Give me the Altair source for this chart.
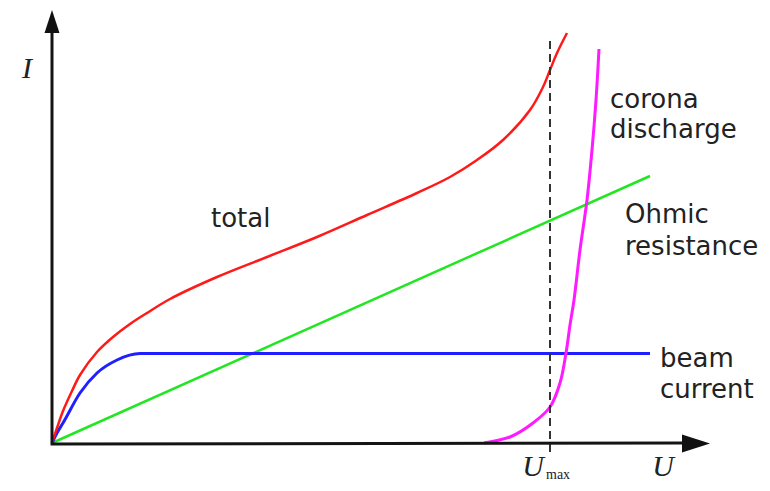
import altair as alt
import pandas as pd

# Coordinates: U = horizontal units from origin, I = vertical units from origin
total_U = [0, 5, 11, 20, 28, 45, 61, 78, 95, 118, 165, 215, 265, 315, 365, 398, 425, 451, 478, 491, 498, 505, 515]
total_I = [0, 15, 32, 52, 68, 91, 106, 119, 130, 144, 166, 186, 206, 228, 250, 266, 283, 303, 333, 356, 373, 390, 410]

beam_U = [0, 5, 11, 28, 45, 65, 88, 598]
beam_I = [0, 10, 20, 50, 70, 83, 89.5, 89.5]

ohm_U = [0, 598]
ohm_I = [0, 267]

corona_U = [432, 458, 481, 498, 508, 514, 518, 522, 528, 535, 540, 544, 547]
corona_I = [0, 6, 20, 36, 60, 90, 118, 143, 193, 243, 293, 343, 394]

umax_U = [498, 498]
umax_I = [-9, 403]

label_text = ["total", "corona", "discharge", "Ohmic", "resistance", "beam", "current"]
label_U = [159, 558, 558, 573, 573, 608, 608]
label_I = [216, 335, 305, 220, 188, 76, 45]

axis_text = ["I", "U", "U"]
axis_text_U = [-25, 611, 481]
axis_text_I = [365, -33, -33]

xs = alt.Scale(domain=[-44, 710], nice=False, zero=False)
ys = alt.Scale(domain=[-40, 435], nice=False, zero=False)


def series(us, is_):
    return pd.DataFrame({"U": us, "I": is_, "o": list(range(len(us)))})


def line(df, color, width, interp="monotone", dash=None):
    kw = dict(color=color, strokeWidth=width, interpolate=interp, clip=False)
    if dash:
        kw["strokeDash"] = dash
    return alt.Chart(df).mark_line(**kw).encode(
        x=alt.X("U:Q", scale=xs, axis=None),
        y=alt.Y("I:Q", scale=ys, axis=None),
        order="o:Q",
    )


axes_df = pd.DataFrame({"U": [0, 0, 630], "I": [412, -1, 0], "o": [0, 1, 2]})
axes = line(axes_df, "#141414", 3, interp="linear")

arrow_y = alt.Chart(pd.DataFrame({"U": [0], "I": [421.5]})).mark_point(
    shape="M0,-1L0.65,1L-0.65,1Z", size=529, filled=True, color="#111", opacity=1, clip=False
).encode(x=alt.X("U:Q", scale=xs, axis=None), y=alt.Y("I:Q", scale=ys, axis=None))

arrow_x = alt.Chart(pd.DataFrame({"U": [644], "I": [-0.5]})).mark_point(
    shape="M1,0L-1,0.64L-1,-0.64Z", size=784, filled=True, color="#111", opacity=1, clip=False
).encode(x=alt.X("U:Q", scale=xs, axis=None), y=alt.Y("I:Q", scale=ys, axis=None))

dashed = line(series(umax_U, umax_I), "#333333", 2, interp="linear", dash=[8, 5])
ohm = line(series(ohm_U, ohm_I), "#22e622", 2.5, interp="linear")
beam = line(series(beam_U, beam_I), "#1f1fff", 3)
total = line(series(total_U, total_I), "#ff1a1a", 2.5, interp="catmull-rom")
corona = line(series(corona_U, corona_I), "#ff1aff", 3, interp="catmull-rom")

labels = alt.Chart(pd.DataFrame({"t": label_text, "U": label_U, "I": label_I})).mark_text(
    font="DejaVu Sans", fontSize=26, color="#222222", align="left", baseline="alphabetic"
).encode(x=alt.X("U:Q", scale=xs, axis=None), y=alt.Y("I:Q", scale=ys, axis=None), text="t:N")

axis_labels = alt.Chart(pd.DataFrame({"t": axis_text, "U": axis_text_U, "I": axis_text_I})).mark_text(
    font="Liberation Serif", fontStyle="italic", fontSize=30, color="#222222", align="center", baseline="alphabetic"
).encode(x=alt.X("U:Q", scale=xs, axis=None), y=alt.Y("I:Q", scale=ys, axis=None), text="t:N")

sub = alt.Chart(pd.DataFrame({"t": ["max"], "U": [494], "I": [-39]})).mark_text(
    font="Liberation Serif", fontSize=14, color="#222222", align="left", baseline="bottom"
).encode(x=alt.X("U:Q", scale=xs, axis=None), y=alt.Y("I:Q", scale=ys, axis=None), text="t:N")

chart = alt.layer(
    ohm, beam, total, corona, dashed, axes, arrow_y, arrow_x, labels, axis_labels, sub
).properties(
    width=754, height=475, padding=0, autosize=alt.AutoSizeParams(type="none")
).configure_view(stroke=None)

chart.save("out.html", embed_options={"renderer": "svg", "actions": False})
